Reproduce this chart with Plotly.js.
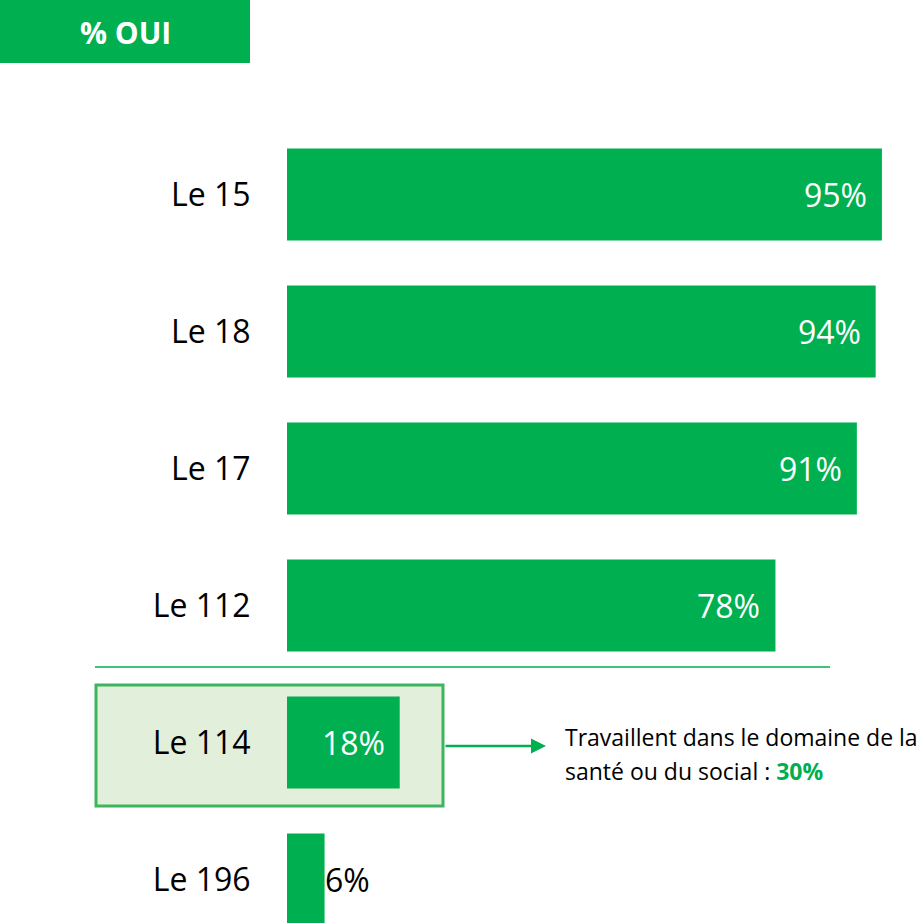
<!DOCTYPE html>
<html>
<head>
<meta charset="utf-8">
<script src="https://cdn.plot.ly/plotly-3.0.1.min.js"></script>
<style>html,body{margin:0;padding:0;background:#fff}#chart{width:922px;height:923px}</style>
</head>
<body>
<div id="chart"></div>
<script>
const categories = ["Le 15", "Le 18", "Le 17", "Le 112", "Le 114", "Le 196"];
const values = [95, 94, 91, 78, 18, 6];
const valueLabels = ["95%", "94%", "91%", "78%", "18%", "6%"];
const headerText = "% OUI";
const noteLine1 = "Travaillent dans le domaine de la";
const noteLine2 = "santé ou du social : <b><span style=\"color:#00B050\">30%</span></b>";

const GREEN = "#00B050";
const FONT = "Open Sans, Noto Sans, sans-serif";
const W = 922, H = 923;
const px = x => x / W;
const py = y => 1 - y / H;

const trace = {
  type: "bar",
  orientation: "h",
  x: values,
  y: categories,
  marker: {color: GREEN, line: {width: 0}},
  width: 0.672,
  hoverinfo: "none",
  cliponaxis: true
};

const valueAnnotations = values.map((v, i) => {
  const inside = v >= 10;
  return {
    x: v, y: categories[i], xref: "x", yref: "y",
    text: valueLabels[i], showarrow: false,
    xanchor: inside ? "right" : "left",
    xshift: inside ? -13 : -2,
    yanchor: "middle",
    font: {family: FONT, size: 32, color: inside ? "#ffffff" : "#000000"}
  };
});

const layout = {
  width: W, height: H,
  margin: {l: 0, r: 0, t: 0, b: 0},
  paper_bgcolor: "#ffffff",
  plot_bgcolor: "rgba(0,0,0,0)",
  showlegend: false,
  xaxis: {
    domain: [287 / W, 1],
    range: [0, 101.4],
    showgrid: false, zeroline: false, showticklabels: false, showline: false, ticks: ""
  },
  yaxis: {
    domain: [0, py(126)],
    type: "category",
    range: [5.318, -0.5],
    showgrid: false, zeroline: false, showline: false,
    ticks: "outside", ticklen: 29, tickcolor: "rgba(0,0,0,0)",
    tickfont: {family: FONT, size: 32, color: "#000000"}
  },
  shapes: [
    {type: "rect", xref: "paper", yref: "paper", x0: 0, x1: px(250), y0: py(0), y1: py(63),
     fillcolor: GREEN, line: {width: 0}, layer: "below"},
    {type: "line", xref: "paper", yref: "paper", x0: px(95), x1: px(830), y0: py(667), y1: py(667),
     line: {color: GREEN, width: 1.5}, layer: "below"},
    {type: "rect", xref: "paper", yref: "paper", x0: px(96), x1: px(443), y0: py(685), y1: py(806),
     fillcolor: "#E2EFDA", line: {color: "#3DB55E", width: 3}, layer: "below"}
  ],
  annotations: [
    {xref: "paper", yref: "paper", x: px(125), y: py(32), text: "<b>" + headerText + "</b>",
     showarrow: false, xanchor: "center", yanchor: "middle",
     font: {family: FONT, size: 30, color: "#ffffff"}},
    {xref: "paper", yref: "paper", x: px(546), y: py(746), ax: -102, ay: 0, text: "",
     showarrow: true, arrowhead: 2, arrowsize: 1.2, arrowwidth: 2.5, arrowcolor: GREEN},
    {xref: "paper", yref: "paper", x: px(563), y: py(737), text: noteLine1,
     showarrow: false, xanchor: "left", yanchor: "middle", align: "left",
     font: {family: FONT, size: 23, color: "#000000"}},
    {xref: "paper", yref: "paper", x: px(563), y: py(771), text: noteLine2,
     showarrow: false, xanchor: "left", yanchor: "middle", align: "left",
     font: {family: FONT, size: 23, color: "#000000"}}
  ].concat(valueAnnotations)
};

Plotly.newPlot("chart", [trace], layout, {displayModeBar: false, staticPlot: true});
</script>
</body>
</html>
